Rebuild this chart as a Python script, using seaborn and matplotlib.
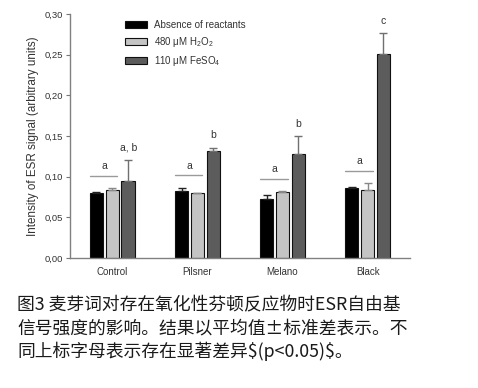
import numpy as np
import pandas as pd
import matplotlib
matplotlib.use("Agg")
import matplotlib.pyplot as plt
import matplotlib.patches as mpatches
import seaborn as sns

# Data
beers = ["Control", "Pilsner", "Melano", "Black"]
treatments = ["Absence of reactants", "480 \u03bcM H$_2$O$_2$", "110 \u03bcM FeSO$_4$"]
absence = [0.0795, 0.0828, 0.0725, 0.0865]
h2o2 = [0.0836, 0.0800, 0.0808, 0.0832]
feso4 = [0.0947, 0.1320, 0.1280, 0.2510]
absence_sd = [0.0015, 0.0037, 0.0045, 0.0003]
h2o2_sd = [0.0020, 0.0005, 0.0016, 0.0086]
feso4_sd = [0.0260, 0.0036, 0.0220, 0.0250]
pair_letters = ["a", "a", "a", "a"]
fe_letters = ["a, b", "b", "b", "c"]
yticks = [0.00, 0.05, 0.10, 0.15, 0.20, 0.25, 0.30]
caption = ["图3 麦芽词对存在氧化性芬顿反应物时ESR自由基",
           "信号强度的影响。结果以平均值±标准差表示。不",
           "同上标字母表示存在显著差异$(p<0.05)$。"]

colors = ["#000000", "#c4c4c4", "#5c5c5c"]
err_colors = ["#222222", "#888888", "#707070"]

df = pd.DataFrame({
    "beer": beers * 3,
    "treatment": [t for t in treatments for _ in beers],
    "value": absence + h2o2 + feso4,
})
sds = [absence_sd, h2o2_sd, feso4_sd]

sns.set_style("white")
plt.rcParams["font.family"] = ["Liberation Sans", "Noto Sans CJK SC", "DejaVu Sans"]
plt.rcParams["mathtext.default"] = "regular"

fig = plt.figure(figsize=(4.78, 3.88), dpi=100)
ax = fig.add_axes([0.146, 0.335, 0.712, 0.629])

sns.barplot(data=df, x="beer", y="value", hue="treatment", order=beers,
            hue_order=treatments, palette=colors, errorbar=None, width=0.56,
            gap=0.15, edgecolor="#111111", linewidth=0.8, legend=False, ax=ax)

# error bars (upper only) and bar geometry
bar_conts = list(ax.containers)
tops = []
lefts = []
rights = []
for i, cont in enumerate(bar_conts):
    xs = [p.get_x() + p.get_width() / 2 for p in cont.patches]
    ys = [p.get_height() for p in cont.patches]
    ax.errorbar(xs, ys, yerr=[np.zeros(len(ys)), sds[i]], fmt="none",
                ecolor=err_colors[i], elinewidth=1, capsize=3, capthick=1)
    tops.append([y + s for y, s in zip(ys, sds[i])])
    lefts.append([p.get_x() for p in cont.patches])
    rights.append([p.get_x() + p.get_width() for p in cont.patches])

# significance letters
for j in range(len(beers)):
    ly = max(tops[0][j], tops[1][j]) + 0.015
    ax.plot([lefts[0][j], rights[1][j] - 0.02], [ly, ly], color="#9a9a9a", lw=1)
    ax.text((lefts[0][j] + rights[1][j]) / 2, ly + 0.006, pair_letters[j],
            ha="center", va="bottom", fontsize=7.5, color="#333333")
    ax.text((lefts[2][j] + rights[2][j]) / 2, tops[2][j] + 0.009, fe_letters[j],
            ha="center", va="bottom", fontsize=7.5, color="#333333")

ax.set_xlim(-0.5, 3.5)
ax.set_ylim(0, 0.30)
ax.set_yticks(yticks)
ax.set_yticklabels([f"{v:.2f}".replace(".", ",") for v in yticks])
ax.set_xlabel("")
ax.set_ylabel("Intensity of ESR signal (arbitrary units)", fontsize=8.4,
              color="#333333", labelpad=4)
ax.tick_params(axis="y", which="both", left=True, length=3, width=0.8,
               color="#777777", labelsize=6.8, labelcolor="#333333", pad=2)
ax.tick_params(axis="x", bottom=False, labelsize=7, labelcolor="#333333", pad=3)
sns.despine(ax=ax)
for s in ["left", "bottom"]:
    ax.spines[s].set_color("#808080")
    ax.spines[s].set_linewidth(1)

handles = [mpatches.Patch(facecolor=c, edgecolor="#111111", linewidth=0.8) for c in colors]
ax.legend(handles, treatments, loc="upper left", bbox_to_anchor=(0.15, 0.99),
          frameon=False, fontsize=7, handlelength=2.3, handleheight=0.7,
          handletextpad=0.7, labelspacing=0.5, borderaxespad=0, labelcolor="#333333")

for k, line in enumerate(caption):
    fig.text(0.036, 1 - (305 + 23 * k) / 388, line, ha="left", va="center",
             fontsize=12.8, family=["Noto Sans CJK SC", "DejaVu Sans"],
             color="#1a1a1a", parse_math=False)

fig.savefig("out.png", dpi=100)
